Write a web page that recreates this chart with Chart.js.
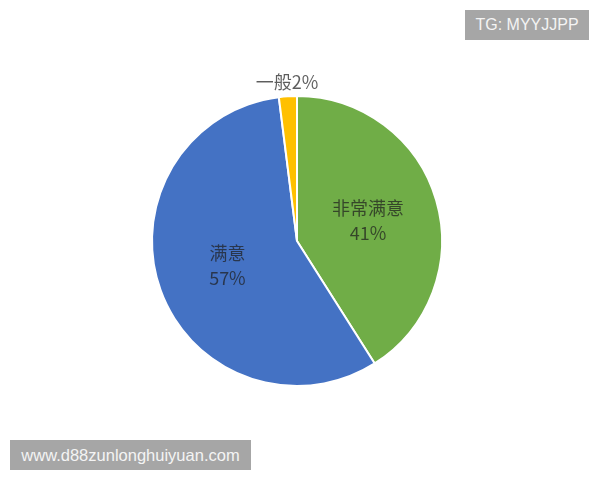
<!DOCTYPE html>
<html>
<head>
<meta charset="utf-8">
<script src="https://cdn.jsdelivr.net/npm/chart.js@4"></script>
<style>
    html, body { margin: 0; padding: 0; background: #ffffff; }
    #wrap { position: relative; width: 600px; height: 480px; }
    .mark {
        position: absolute;
        background: #a6a6a6;
        color: #f4f4f4;
        font-family: 'Liberation Sans', Arial, sans-serif;
        font-size: 16px;
        line-height: 30px;
        height: 30px;
        text-align: center;
        white-space: nowrap;
    }
</style>
</head>
<body>
<div id="wrap">
    <canvas id="myChart" width="600" height="480"></canvas>
    <div class="mark" style="left:465px; top:10px; width:124px;">TG: MYYJJPP</div>
    <div class="mark" style="left:10px; top:440px; width:241px; font-size:16.5px;">www.d88zunlonghuiyuan.com</div>
</div>
<script>
/* données du graphique */
const labels = ['非常满意', '满意', '一般'];
const values = [41, 57, 2];
const colors = ['#70ad47', '#4472c4', '#ffc000'];

/* étiquettes de données : nom + pourcentage */
const dataLabels = {
    id: 'dataLabels',
    afterDatasetsDraw(chart) {
        const ctx = chart.ctx;
        const meta = chart.getDatasetMeta(0);
        const total = values.reduce((a, b) => a + b, 0);
        ctx.save();
        ctx.font = '18px "Noto Sans CJK SC", sans-serif';
        ctx.textAlign = 'center';
        ctx.textBaseline = 'middle';
        ctx.fillStyle = 'rgba(30, 30, 30, 0.72)';
        meta.data.forEach(function(arc, i) {
            const p = arc.getProps(['x', 'y', 'startAngle', 'endAngle', 'outerRadius'], true);
            const mid = (p.startAngle + p.endAngle) / 2;
            const pct = Math.round(values[i] / total * 100) + '%';
            if (values[i] / total < 0.05) {
                // petite part : étiquette à l'extérieur, sur une ligne
                const r = p.outerRadius * 1.1;
                ctx.fillText(labels[i] + pct, p.x + Math.cos(mid) * r, p.y + Math.sin(mid) * r);
            } else {
                const r = p.outerRadius * 0.51;
                const cx = p.x + Math.cos(mid) * r;
                const cy = p.y + Math.sin(mid) * r;
                ctx.fillText(labels[i], cx, cy - 12.5);
                ctx.fillText(pct, cx, cy + 12.5);
            }
        });
        ctx.restore();
    }
};

const ctx = document.getElementById('myChart').getContext('2d');
const myChart = new Chart(ctx, {
    type: 'pie',
    data: {
        labels: labels,
        datasets: [{
            data: values,
            backgroundColor: colors,
            borderColor: '#ffffff',
            borderWidth: 2
        }]
    },
    options: {
        responsive: false,
        animation: false,
        layout: {
            padding: { top: 95, bottom: 93, left: 0, right: 6 }
        },
        plugins: {
            legend: { display: false },
            tooltip: { enabled: false },
            title: { display: false }
        }
    },
    plugins: [dataLabels]
});
</script>
</body>
</html>
